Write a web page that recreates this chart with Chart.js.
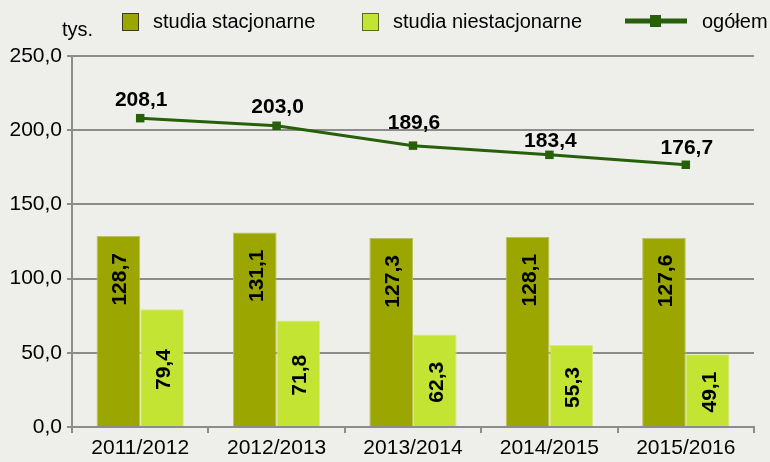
<!DOCTYPE html>
<html>
<head>
<meta charset="utf-8">
<script src="https://cdn.jsdelivr.net/npm/chart.js@4/dist/chart.umd.min.js"></script>
<style>
  html, body { margin: 0; padding: 0; background: #eeefeb; }
  canvas { display: block; }
</style>
</head>
<body>
<canvas id="myChart" width="770" height="462"></canvas>
<script>
const years = ['2011/2012', '2012/2013', '2013/2014', '2014/2015', '2015/2016'];
const stacjonarne = [128.7, 131.1, 127.3, 128.1, 127.6];
const niestacjonarne = [79.4, 71.8, 62.3, 55.3, 49.1];
const ogolem = [208.1, 203.0, 189.6, 183.4, 176.7];
const yTicks = [0, 50, 100, 150, 200, 250];

const darkOlive = '#9ba600';
const lightGreen = '#c3e432';
const lineGreen = '#27600a';
const gridGray = '#8c8c8c';
const fontFamily = '"Liberation Sans", Arial, sans-serif';
// how far above each line point its label baseline sits (px)
const lineLabelGap = [12, 13, 17, 8, 11];

const fmt = v => v.toFixed(1).replace('.', ',');

// value labels on bars and line points
const valueLabels = {
  id: 'valueLabels',
  afterDatasetsDraw(chart) {
    const ctx = chart.ctx;
    ctx.save();
    ctx.fillStyle = '#000';
    ctx.font = 'bold 21px ' + fontFamily;
    chart.data.datasets.forEach((ds, di) => {
      const meta = chart.getDatasetMeta(di);
      meta.data.forEach((el, i) => {
        const txt = fmt(ds.data[i]);
        if (ds.type === 'line') {
          ctx.textAlign = 'center';
          ctx.textBaseline = 'alphabetic';
          ctx.fillText(txt, el.x + 1, el.y - lineLabelGap[i]);
        } else {
          const w = ctx.measureText(txt).width;
          let cy;
          if (ds.label === 'studia stacjonarne') cy = el.y + 17 + w / 2;
          else cy = (el.y + el.base) / 2 + 2;
          ctx.save();
          ctx.translate(el.x, cy);
          ctx.rotate(-Math.PI / 2);
          ctx.textAlign = 'center';
          ctx.textBaseline = 'alphabetic';
          ctx.fillText(txt, 0, 8);
          ctx.restore();
        }
      });
    });
    ctx.restore();
  }
};

// legend and unit label drawn by hand
const topLegend = {
  id: 'topLegend',
  afterDraw(chart) {
    const ctx = chart.ctx;
    ctx.save();
    ctx.font = '20px ' + fontFamily;
    ctx.fillStyle = '#000';
    ctx.textBaseline = 'middle';
    ctx.textAlign = 'left';
    ctx.fillText('tys.', 62, 30);

    ctx.strokeStyle = '#3a3a20';
    ctx.lineWidth = 1;
    ctx.fillStyle = darkOlive;
    ctx.fillRect(122.5, 13.5, 16, 17);
    ctx.strokeRect(122.5, 13.5, 16, 17);
    ctx.fillStyle = lightGreen;
    ctx.fillRect(362.5, 13.5, 16, 17);
    ctx.strokeStyle = '#5a6a20';
    ctx.strokeRect(362.5, 13.5, 16, 17);

    ctx.fillStyle = '#000';
    ctx.fillText('studia stacjonarne', 153, 22);
    ctx.fillText('studia niestacjonarne', 393, 22);

    ctx.strokeStyle = lineGreen;
    ctx.lineWidth = 5;
    ctx.beginPath();
    ctx.moveTo(625, 21);
    ctx.lineTo(687, 21);
    ctx.stroke();
    ctx.fillStyle = lineGreen;
    ctx.fillRect(650, 15, 11, 12);

    ctx.fillStyle = '#000';
    ctx.fillText('ogółem', 702, 22);
    ctx.restore();
  }
};

const data = {
  labels: years,
  datasets: [
    {
      type: 'line',
      label: 'ogółem',
      data: ogolem,
      borderColor: lineGreen,
      backgroundColor: lineGreen,
      borderWidth: 3,
      pointStyle: 'rect',
      pointRadius: 6,
      pointBorderWidth: 0,
      order: 0
    },
    {
      type: 'bar',
      label: 'studia stacjonarne',
      data: stacjonarne,
      backgroundColor: darkOlive,
      borderColor: '#b9c25a',
      borderWidth: 1,
      categoryPercentage: 0.64,
      barPercentage: 1.0,
      order: 1
    },
    {
      type: 'bar',
      label: 'studia niestacjonarne',
      data: niestacjonarne,
      backgroundColor: lightGreen,
      borderColor: '#d6ec80',
      borderWidth: 1,
      categoryPercentage: 0.64,
      barPercentage: 1.0,
      order: 1
    }
  ]
};

const config = {
  type: 'bar',
  data: data,
  options: {
    responsive: false,
    animation: false,
    layout: {
      padding: { top: 56, right: 16, left: 0, bottom: 0 }
    },
    plugins: {
      legend: { display: false },
      tooltip: { enabled: false }
    },
    scales: {
      x: {
        offset: true,
        grid: {
          offset: true,
          drawOnChartArea: false,
          color: gridGray,
          lineWidth: 2,
          tickLength: 6
        },
        border: { color: gridGray, width: 2 },
        ticks: {
          color: '#000',
          font: { family: fontFamily, size: 21 },
          padding: 3
        },
        afterFit(scale) { scale.height = 35; }
      },
      y: {
        min: 0,
        max: 250,
        afterBuildTicks(scale) {
          scale.ticks = yTicks.map(v => ({ value: v }));
        },
        grid: {
          color: gridGray,
          lineWidth: 2,
          tickLength: 5
        },
        border: { color: gridGray, width: 2 },
        ticks: {
          color: '#000',
          font: { family: fontFamily, size: 21 },
          padding: 5,
          callback: v => fmt(v)
        },
        afterFit(scale) { scale.width = 72; }
      }
    }
  },
  plugins: [valueLabels, topLegend]
};

const myChart = new Chart(document.getElementById('myChart'), config);
</script>
</body>
</html>
